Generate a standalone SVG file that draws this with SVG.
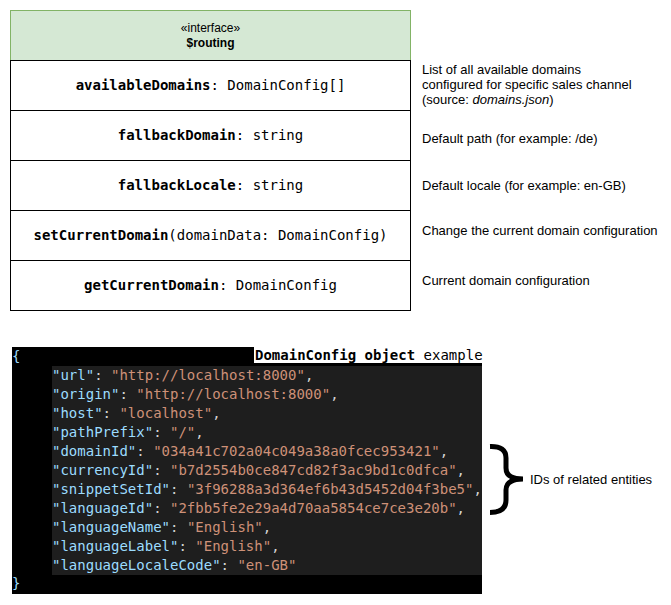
<svg xmlns="http://www.w3.org/2000/svg" width="671" height="605" viewBox="0 0 671 605">
<style>
.cell{fill:#ffffff;stroke:#000000;stroke-width:1}
.mono{font-family:"DejaVu Sans Mono",monospace;font-size:14px}
.sans{font-family:"Liberation Sans",Arial,sans-serif;font-size:13px;fill:#000}
.k{fill:#9cdcfe}
.s{fill:#ce9178}
.p{fill:#d4d4d4}
</style>
<rect width="671" height="605" fill="#ffffff"/>
<g id="routing-header">
<rect x="10.5" y="10.5" width="400" height="50" fill="#d5e8d4" stroke="#82b366"/>
<text x="210.5" y="32" text-anchor="middle" font-family="Liberation Sans, Arial, sans-serif" font-size="12">«interface»</text>
<text x="210.5" y="47" text-anchor="middle" font-family="Liberation Sans, Arial, sans-serif" font-size="12" font-weight="bold">$routing</text>
</g>
<g id="row-availableDomains">
<rect class="cell" x="10.5" y="60.5" width="400" height="50"/>
<text class="mono" x="210.5" y="90" text-anchor="middle"><tspan font-weight="bold">availableDomains</tspan>: DomainConfig[]</text>
</g>
<g id="row-fallbackDomain">
<rect class="cell" x="10.5" y="110.5" width="400" height="50"/>
<text class="mono" x="210.5" y="140" text-anchor="middle"><tspan font-weight="bold">fallbackDomain</tspan>: string</text>
</g>
<g id="row-fallbackLocale">
<rect class="cell" x="10.5" y="160.5" width="400" height="50"/>
<text class="mono" x="210.5" y="190" text-anchor="middle"><tspan font-weight="bold">fallbackLocale</tspan>: string</text>
</g>
<g id="row-setCurrentDomain">
<rect class="cell" x="10.5" y="210.5" width="400" height="50"/>
<text class="mono" x="210.5" y="240" text-anchor="middle"><tspan font-weight="bold">setCurrentDomain</tspan>(domainData: DomainConfig)</text>
</g>
<g id="row-getCurrentDomain">
<rect class="cell" x="10.5" y="260.5" width="400" height="50"/>
<text class="mono" x="210.5" y="290" text-anchor="middle"><tspan font-weight="bold">getCurrentDomain</tspan>: DomainConfig</text>
</g>
<g id="notes">
<text class="sans" x="422" y="74">List of all available domains</text>
<text class="sans" x="422" y="89">configured for specific sales channel</text>
<text class="sans" x="422" y="104">(source: <tspan font-style="italic">domains.json</tspan>)</text>
<text class="sans" x="422" y="143">Default path (for example: /de)</text>
<text class="sans" x="422" y="190">Default locale (for example: en-GB)</text>
<text class="sans" x="422" y="235">Change the current domain configuration</text>
<text class="sans" x="422" y="285">Current domain configuration</text>
</g>
<g id="code-example">
<rect x="12" y="347" width="470" height="247" fill="#000000"/>
<rect x="52" y="366" width="430" height="209" fill="#1e1e1e"/>
<rect x="254" y="347" width="228" height="16" fill="#ffffff"/>
<text class="mono" x="255" y="360" fill="#000"><tspan font-weight="bold">DomainConfig object</tspan> example</text>
<text class="mono k" x="12" y="361">{</text>
<text class="mono" x="52" y="380"><tspan class="k">"url"</tspan><tspan class="p">: </tspan><tspan class="s">"http://localhost:8000"</tspan><tspan class="p">,</tspan></text>
<text class="mono" x="52" y="399"><tspan class="k">"origin"</tspan><tspan class="p">: </tspan><tspan class="s">"http://localhost:8000"</tspan><tspan class="p">,</tspan></text>
<text class="mono" x="52" y="418"><tspan class="k">"host"</tspan><tspan class="p">: </tspan><tspan class="s">"localhost"</tspan><tspan class="p">,</tspan></text>
<text class="mono" x="52" y="437"><tspan class="k">"pathPrefix"</tspan><tspan class="p">: </tspan><tspan class="s">"/"</tspan><tspan class="p">,</tspan></text>
<text class="mono" x="52" y="456"><tspan class="k">"domainId"</tspan><tspan class="p">: </tspan><tspan class="s">"034a41c702a04c049a38a0fcec953421"</tspan><tspan class="p">,</tspan></text>
<text class="mono" x="52" y="475"><tspan class="k">"currencyId"</tspan><tspan class="p">: </tspan><tspan class="s">"b7d2554b0ce847cd82f3ac9bd1c0dfca"</tspan><tspan class="p">,</tspan></text>
<text class="mono" x="52" y="494"><tspan class="k">"snippetSetId"</tspan><tspan class="p">: </tspan><tspan class="s">"3f96288a3d364ef6b43d5452d04f3be5"</tspan><tspan class="p">,</tspan></text>
<text class="mono" x="52" y="513"><tspan class="k">"languageId"</tspan><tspan class="p">: </tspan><tspan class="s">"2fbb5fe2e29a4d70aa5854ce7ce3e20b"</tspan><tspan class="p">,</tspan></text>
<text class="mono" x="52" y="532"><tspan class="k">"languageName"</tspan><tspan class="p">: </tspan><tspan class="s">"English"</tspan><tspan class="p">,</tspan></text>
<text class="mono" x="52" y="551"><tspan class="k">"languageLabel"</tspan><tspan class="p">: </tspan><tspan class="s">"English"</tspan><tspan class="p">,</tspan></text>
<text class="mono" x="52" y="570"><tspan class="k">"languageLocaleCode"</tspan><tspan class="p">: </tspan><tspan class="s">"en-GB"</tspan></text>
<text class="mono k" x="12" y="588">}</text>
</g>
<g id="ids-brace">
<path d="M490,446.5 Q506,446 506,458 L506,468 Q506,479 523,479 Q506,479 506,490 L506,500 Q506,512.5 490,512.5" fill="none" stroke="#000" stroke-width="5"/>
<text class="sans" x="530" y="484">IDs of related entities</text>
</g>
</svg>
